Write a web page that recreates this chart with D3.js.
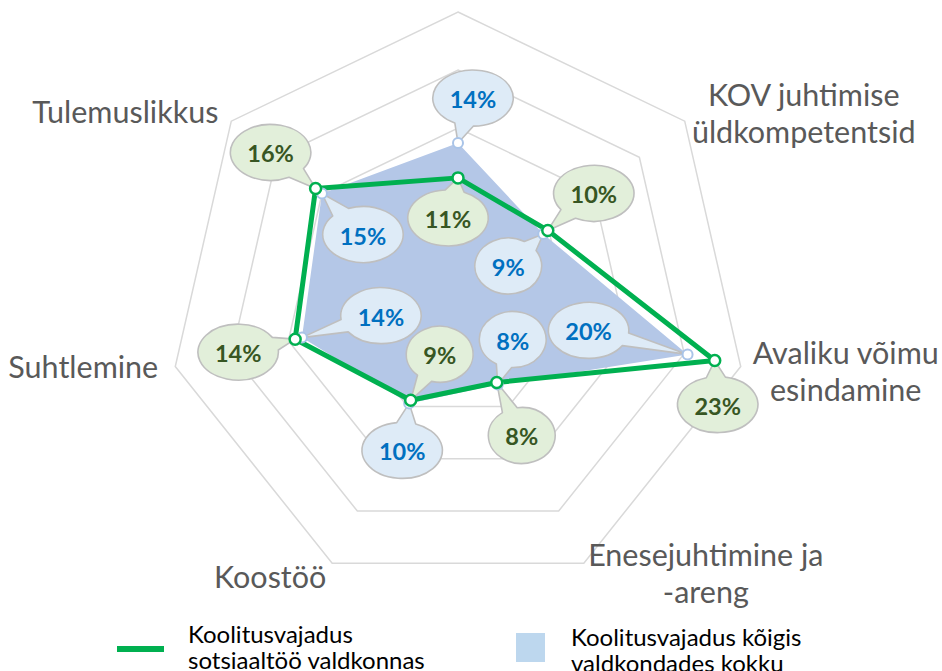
<!DOCTYPE html>
<html><head><meta charset="utf-8">
<script src="https://cdn.jsdelivr.net/npm/d3@7"></script>
<style>body{margin:0;background:#fff} svg{display:block}</style>
</head><body>
<svg id="chart" width="942" height="671"></svg>
<script>
// ---------- data ----------
const categories = ["", "KOV juhtimise üldkompetentsid", "Avaliku võimu esindamine", "Enesejuhtimine ja -areng", "Koostöö", "Suhtlemine", "Tulemuslikkus"];
const categoryLines = [[], ["KOV juhtimise", "üldkompetentsid"], ["Avaliku võimu", "esindamine"], ["Enesejuhtimine ja", "-areng"], ["Koostöö"], ["Suhtlemine"], ["Tulemuslikkus"]];
const sotsiaaltoo = [10.7, 9.9, 22.7, 7.7, 9.4, 14.4, 15.7];
const koik = [13.7, 9.4, 20.3, 7.9, 9.7, 13.8, 15.0];
const ringTicks = [5, 10, 15, 20, 25];
const seriesNames = [["Koolitusvajadus", "sotsiaaltöö valdkonnas"], ["Koolitusvajadus kõigis", "valdkondades kokku"]];

// ---------- layout ----------
const cx = 458, cy = 302, R = 290;
const axisLabelOffsets = [[0, 0], [119, -15], [105, -3], [122, 3], [-62, 25], [-92, 11], [-106, 2]];
const greenLabelOffsets = [[-10, 40], [46, -37], [3, 44], [25, 53], [29, -46], [-57, 13], [-45, -36]];
const blueLabelOffsets = [[15, -45], [-35, 32], [-99, -24], [15, -45], [-7, 47], [79, -22], [41, 41]];

const svg = d3.select("#chart");
const g = svg.append("g").attr("transform", `translate(${cx},${cy})`);

const r = d3.scaleLinear().domain([0, 25]).range([0, R]);
const angle = d3.scaleLinear().domain([0, categories.length]).range([0, 2 * Math.PI]);
const pt = (i, v) => [r(v) * Math.sin(angle(i)), -r(v) * Math.cos(angle(i))];

const radial = d3.lineRadial().curve(d3.curveLinearClosed);

// grid rings
g.selectAll("path.ring").data(ringTicks).join("path")
  .attr("class", "ring")
  .attr("d", t => radial(categories.map((c, i) => [angle(i), r(t)])))
  .attr("fill", "none").attr("stroke", "#d9d9d9").attr("stroke-width", 1.5);

// blue area
g.append("path")
  .attr("d", radial(koik.map((v, i) => [angle(i), r(v)])))
  .attr("fill", "#b4c7e7");

// green line
g.append("path")
  .attr("d", radial(sotsiaaltoo.map((v, i) => [angle(i), r(v)])))
  .attr("fill", "none").attr("stroke", "#00b050").attr("stroke-width", 5).attr("stroke-linejoin", "round");

// axis labels
const fontFam = "Lato, 'Open Sans', sans-serif";
categoryLines.forEach((lines, i) => {
  if (!lines.length) return;
  const [vx, vy] = pt(i, 25);
  const [ox, oy] = axisLabelOffsets[i];
  const t = g.append("text").attr("x", vx + ox).attr("y", vy + oy)
    .attr("text-anchor", "middle").attr("fill", "#595959")
    .style("font-family", fontFam).style("font-size", "30.5px");
  lines.forEach((l, k) => t.append("tspan").attr("x", vx + ox).attr("dy", k === 0 ? 0 : 37).text(l));
});

// callout bubbles
function bubble(values, offsets, fill, color) {
  values.forEach((v, i) => {
    const [px, py] = pt(i, v);
    const bx = px + offsets[i][0], by = py + offsets[i][1];
    const grp = g.append("g");
    const path = grp.append("path");
    const txt = grp.append("text").attr("x", bx).attr("y", by + 1)
      .attr("text-anchor", "middle").attr("dominant-baseline", "central")
      .attr("fill", color).style("font-family", fontFam).style("font-weight", "700").style("font-size", "23.5px")
      .text(Math.round(v) + "%");
    const tw = txt.node().getComputedTextLength();
    const rx = tw / 2 + 17, ry = 28;
    const t0 = Math.atan2((py - by) / ry, (px - bx) / rx);
    const d = 0.24;
    const P = t => [bx + rx * Math.cos(t), by + ry * Math.sin(t)];
    const b1 = P(t0 - d), b2 = P(t0 + d);
    path.attr("d", `M${b2[0]},${b2[1]}L${px},${py}L${b1[0]},${b1[1]}A${rx},${ry} 0 1 0 ${b2[0]},${b2[1]}Z`)
      .attr("fill", fill).attr("stroke", "#bfbfbf").attr("stroke-width", 1.6).attr("stroke-linejoin", "round");
  });
}
bubble(koik, blueLabelOffsets, "#deebf7", "#0070c0");
bubble(sotsiaaltoo, greenLabelOffsets, "#e2efda", "#375623");

// markers
g.selectAll("circle.b").data(koik).join("circle").attr("class", "b")
  .attr("cx", (v, i) => pt(i, v)[0]).attr("cy", (v, i) => pt(i, v)[1]).attr("r", 5)
  .attr("fill", "#fff").attr("stroke", "#a9c4e8").attr("stroke-width", 2);
g.selectAll("circle.gm").data(sotsiaaltoo).join("circle").attr("class", "gm")
  .attr("cx", (v, i) => pt(i, v)[0]).attr("cy", (v, i) => pt(i, v)[1]).attr("r", 5.5)
  .attr("fill", "#fff").attr("stroke", "#00b050").attr("stroke-width", 2.5);

// legend
const leg = svg.append("g");
leg.append("line").attr("x1", 117).attr("x2", 164).attr("y1", 649).attr("y2", 649)
  .attr("stroke", "#00b050").attr("stroke-width", 6);
const lt1 = leg.append("text").attr("x", 188).attr("y", 643).attr("fill", "#000")
  .style("font-family", fontFam).style("font-size", "24px");
seriesNames[0].forEach((l, k) => lt1.append("tspan").attr("x", 188).attr("dy", k ? 26 : 0).text(l));
leg.append("rect").attr("x", 516).attr("y", 633).attr("width", 29).attr("height", 29).attr("fill", "#bdd7ee");
const lt2 = leg.append("text").attr("x", 571).attr("y", 646).attr("fill", "#000")
  .style("font-family", fontFam).style("font-size", "24px");
seriesNames[1].forEach((l, k) => lt2.append("tspan").attr("x", 571).attr("dy", k ? 26 : 0).text(l));
</script>
</body></html>
